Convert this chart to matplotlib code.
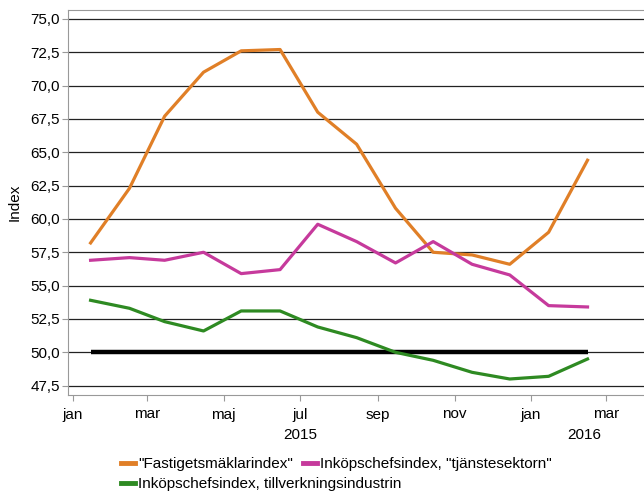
import pandas as pd
import matplotlib.pyplot as plt
from matplotlib.lines import Line2D
from matplotlib.ticker import FuncFormatter

plt.rcParams['font.family'] = ['Liberation Sans', 'DejaVu Sans']

# data (monthly, mid-month)
months = pd.to_datetime(['2015-01-15', '2015-02-15', '2015-03-15', '2015-04-15', '2015-05-15',
                         '2015-06-15', '2015-07-15', '2015-08-15', '2015-09-15', '2015-10-15',
                         '2015-11-15', '2015-12-15', '2016-01-15', '2016-02-15'])
fastighet = [58.2, 62.3, 67.7, 71.0, 72.6, 72.7, 68.0, 65.6, 60.8, 57.5, 57.3, 56.6, 59.0, 64.4]
tjanste = [56.9, 57.1, 56.9, 57.5, 55.9, 56.2, 59.6, 58.3, 56.7, 58.3, 56.6, 55.8, 53.5, 53.4]
tillverkning = [53.9, 53.3, 52.3, 51.6, 53.1, 53.1, 51.9, 51.1, 50.0, 49.4, 48.5, 48.0, 48.2, 49.5]
referens = [50.0] * len(months)

labels = ['"Fastigetsmäklarindex"', 'Inköpschefsindex, "tjänstesektorn"',
          'Inköpschefsindex, tillverkningsindustrin']
colors = ['#E07F27', '#C63A9C', '#2E8A22']
month_names = ['jan', 'mar', 'maj', 'jul', 'sep', 'nov', 'jan', 'mar']

fig = plt.figure(figsize=(6.44, 4.93), dpi=100)
ax = fig.add_axes([68 / 644, 98 / 493, 1 - 68 / 644, 385.5 / 493])

# gridlines
yticks = [47.5 + 2.5 * i for i in range(12)]
for y in yticks:
    ax.axhline(y, color='#222222', lw=0.9, zorder=1)

ax.plot(months, referens, color='black', lw=3.2, zorder=2, solid_capstyle='butt')
ax.plot(months, fastighet, color=colors[0], lw=2.3, zorder=3)
ax.plot(months, tjanste, color=colors[1], lw=2.3, zorder=3)
ax.plot(months, tillverkning, color=colors[2], lw=2.3, zorder=3)

ax.set_ylim(46.8, 75.7)
ax.set_yticks(yticks)
ax.yaxis.set_major_formatter(FuncFormatter(lambda v, p: f'{v:.1f}'.replace('.', ',')))
ax.set_xlim(pd.Timestamp('2014-12-28'), pd.Timestamp('2016-03-31'))
xt = pd.date_range('2015-01-01', '2016-03-01', freq='2MS')
ax.set_xticks(xt)
ax.set_xticklabels(month_names)

for s in ['left', 'bottom', 'top']:
    ax.spines[s].set_color('#999999')
ax.spines['right'].set_visible(False)
ax.tick_params(axis='both', colors='#999999', labelcolor='black', labelsize=11, length=4)
ax.tick_params(axis='x', pad=5)
ax.tick_params(axis='y', pad=2)
ax.set_ylabel('Index', fontsize=11, va='center')
ax.yaxis.set_label_coords(-0.092, 0.5)

# year labels
ax.text(pd.Timestamp('2015-07-01'), -0.103, '2015', transform=ax.get_xaxis_transform(),
        ha='center', va='center', fontsize=11)
ax.text(pd.Timestamp('2016-02-12'), -0.103, '2016', transform=ax.get_xaxis_transform(),
        ha='center', va='center', fontsize=11)

# legend
h = [Line2D([], [], color=c, lw=3.5) for c in colors]
kw = dict(frameon=False, fontsize=11, handlelength=0.9, handletextpad=0.2,
          columnspacing=0.7, borderaxespad=0, borderpad=0)
fig.legend(h[:2], labels[:2], ncol=2, loc='center left', bbox_to_anchor=(121 / 644, 1 - 464 / 493), **kw)
fig.legend(h[2:], labels[2:], loc='center left', bbox_to_anchor=(121 / 644, 1 - 484 / 493), **kw)

plt.savefig('out.png', dpi=100)
plt.close()
